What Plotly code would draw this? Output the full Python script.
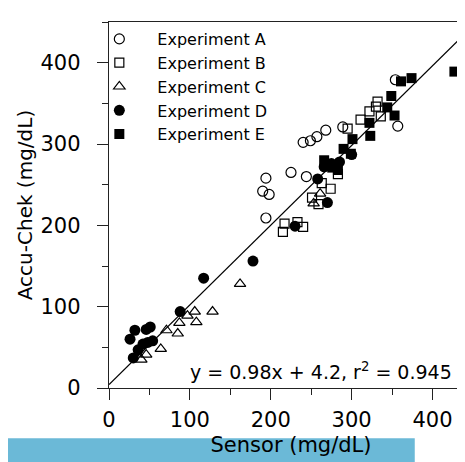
import plotly.graph_objects as go

# readings per experiment (Sensor vs Accu-Chek, mg/dL)
a_sensor = [190, 198, 194, 194, 225, 244, 240, 249, 257, 268, 289, 354, 357]
a_accu = [242, 238, 258, 209, 265, 260, 302, 304, 309, 317, 321, 379, 322]

b_sensor = [215, 217, 233, 240, 251, 259, 263, 274, 283, 295, 311, 322, 332, 330, 336]
b_accu = [192, 202, 204, 198, 234, 226, 252, 245, 263, 319, 330, 340, 352, 346, 334]

c_sensor = [40, 46, 64, 71, 85, 87, 97, 106, 108, 128, 162, 253, 261]
c_accu = [35, 41, 48, 71, 67, 80, 89, 94, 81, 94, 128, 227, 239]

d_sensor = [26, 32, 46, 51, 30, 36, 42, 48, 54, 88, 117, 178, 230, 258, 266, 275, 285, 270, 300]
d_accu = [60, 71, 72, 75, 37, 47, 54, 56, 58, 94, 135, 156, 199, 257, 272, 276, 278, 228, 287]

e_sensor = [266, 270, 276, 283, 290, 299, 301, 322, 323, 344, 349, 353, 361, 374, 427]
e_accu = [280, 274, 271, 268, 294, 288, 306, 326, 310, 345, 359, 335, 377, 381, 389]

fit_slope = 0.98
fit_intercept = 4.2
fit_x = [0, 460]
fit_label = "y = 0.98x + 4.2, r<sup>2</sup> = 0.945"

font = "DejaVu Sans, sans-serif"

fig = go.Figure()
fig.add_trace(go.Scatter(x=fit_x, y=[fit_slope * v + fit_intercept for v in fit_x], mode="lines",
                         line=dict(color="black", width=1.3), showlegend=False, hoverinfo="skip"))
fig.add_trace(go.Scatter(x=a_sensor, y=a_accu, mode="markers", name="Experiment A",
                         marker=dict(symbol="circle-open", size=10, color="black", line=dict(width=1.2))))
fig.add_trace(go.Scatter(x=b_sensor, y=b_accu, mode="markers", name="Experiment B",
                         marker=dict(symbol="square-open", size=9, color="black", line=dict(width=1.2))))
fig.add_trace(go.Scatter(x=c_sensor, y=c_accu, mode="markers", name="Experiment C",
                         marker=dict(symbol="triangle-up-open", size=10, color="black", line=dict(width=1.2))))
fig.add_trace(go.Scatter(x=d_sensor, y=d_accu, mode="markers", name="Experiment D",
                         marker=dict(symbol="circle", size=11, color="black")))
fig.add_trace(go.Scatter(x=e_sensor, y=e_accu, mode="markers", name="Experiment E",
                         marker=dict(symbol="square", size=10, color="black")))

fig.add_annotation(x=427, y=21, xref="x", yref="y", text=fit_label, showarrow=False,
                   xanchor="right", yanchor="middle", font=dict(size=19, color="black", family=font))

# blue band behind the x title
fig.add_shape(type="rect", xref="paper", yref="paper", x0=-0.28, x1=0.84, y0=-0.137, y1=-0.23,
              fillcolor="#6BB9D7", line_width=0, layer="below")

fig.update_layout(
    width=465, height=462,
    margin=dict(l=101, r=0, t=14, b=82),
    plot_bgcolor="white", paper_bgcolor="white",
    font=dict(family=font, color="black", size=21),
    legend=dict(x=-0.076, y=1.0, xanchor="left", yanchor="top", bgcolor="rgba(0,0,0,0)",
                font=dict(size=16), itemwidth=66, tracegroupgap=0),
)
fig.update_xaxes(range=[0, 450], tick0=0, dtick=100, showgrid=False, zeroline=False,
                 showline=True, linecolor="#222", linewidth=1.4, mirror=True,
                 ticks="outside", ticklen=11, tickwidth=1.2, tickcolor="#222",
                 minor=dict(ticks="outside", ticklen=6, dtick=50, tickcolor="#222"),
                 ticklabelstandoff=2,
                 title=dict(text="Sensor (mg/dL)", standoff=5, font=dict(size=21)))
fig.update_yaxes(range=[0, 450], tick0=0, dtick=100, showgrid=False, zeroline=False,
                 showline=True, linecolor="#222", linewidth=1.4,
                 ticks="outside", ticklen=11, tickwidth=1.2, tickcolor="#222",
                 minor=dict(ticks="outside", ticklen=6, dtick=50, tickcolor="#222"),
                 ticklabelstandoff=12,
                 title=dict(text="Accu-Chek (mg/dL)", standoff=2, font=dict(size=20)))

fig.write_html("out.html")
